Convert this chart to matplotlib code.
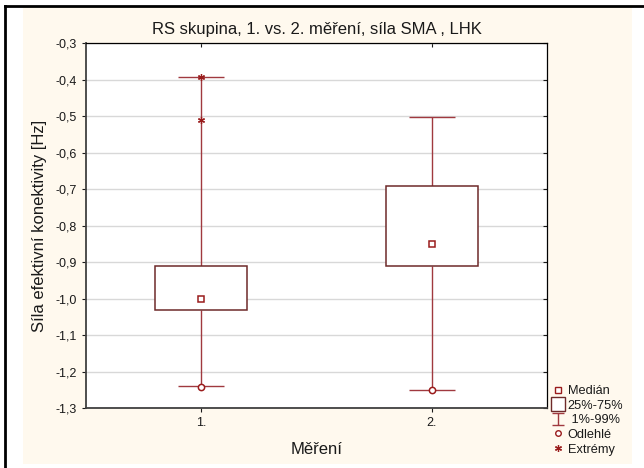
import numpy as np
import matplotlib
matplotlib.use('Agg')
import matplotlib.pyplot as plt
from matplotlib.patches import Rectangle
from matplotlib.lines import Line2D
from matplotlib.path import Path
from matplotlib.ticker import FuncFormatter, MultipleLocator

plt.rcParams['font.family'] = ['Liberation Sans', 'DejaVu Sans']

# Data
groups = ['1.', '2.']
medians = [-1.002, -0.851]
q25 = [-1.030, -0.911]
q75 = [-0.911, -0.692]
p01 = [-1.240, -1.250]
p99 = [-0.392, -0.501]
outliers = [[-1.242], [-1.250]]
extremes = [[-0.392, -0.510], []]

box_edge = '#6e2a2a'
whisk = '#a0393f'
mark = '#9a1c1c'
cream = '#fff9ee'
txt = '#1a1a1a'

fig = plt.figure(figsize=(6.44, 4.68), dpi=100)
fig.patch.set_facecolor('white')

# cream panel + black frame on top/left
fig.add_artist(Rectangle((23 / 644, 1 - 464 / 468), (632 - 23) / 644, (464 - 7) / 468,
                         transform=fig.transFigure, facecolor=cream, edgecolor='none', zorder=0))
fig.add_artist(Line2D([5 / 644, 1], [1 - 5.5 / 468, 1 - 5.5 / 468], transform=fig.transFigure,
                      color='black', lw=2))
fig.add_artist(Line2D([5 / 644, 5 / 644], [0, 1 - 5.5 / 468], transform=fig.transFigure,
                      color='black', lw=2))

ax = fig.add_axes([86 / 644, 1 - 408 / 468, (547 - 86) / 644, (408 - 43.3) / 468])
ax.set_facecolor('white')

x = np.arange(1, len(groups) + 1)
bw = 0.4
for i, xi in enumerate(x):
    # whiskers
    ax.vlines(xi, p01[i], q25[i], color=whisk, lw=1, zorder=2)
    ax.vlines(xi, q75[i], p99[i], color=whisk, lw=1, zorder=2)
    ax.hlines([p01[i], p99[i]], xi - bw / 4, xi + bw / 4, color=whisk, lw=1, zorder=2)
    # box
    ax.add_patch(Rectangle((xi - bw / 2, q25[i]), bw, q75[i] - q25[i], facecolor='white',
                           edgecolor=box_edge, lw=1.1, zorder=3))
    ax.plot(xi, medians[i], 's', ms=4.5, mfc='white', mec=mark, mew=1.1, zorder=4)
    if outliers[i]:
        ax.plot([xi] * len(outliers[i]), outliers[i], 'o', ms=4.5, mfc='white', mec=mark,
                mew=1.1, zorder=4)
    if extremes[i]:
        ax.plot([xi] * len(extremes[i]), extremes[i], marker=(6, 2, 0), ls='none', ms=5,
                color=mark, mew=0.9, zorder=4)

ax.set_xlim(0.5, 2.5)
ax.set_ylim(-1.3, -0.3)
ax.set_xticks(x)
ax.set_xticklabels(groups)
ax.yaxis.set_major_locator(MultipleLocator(0.1))
ax.yaxis.set_major_formatter(FuncFormatter(lambda v, p: ('%.1f' % v).replace('.', ',')))
ax.grid(axis='y', color='#d8d8d8', lw=1, zorder=0)
ax.set_axisbelow(True)
ax.tick_params(axis='both', labelsize=9, colors=txt, length=3, width=0.8)
ax.tick_params(axis='y', right=True, direction='out')
ax.tick_params(axis='x', top=True)
for s in ['left', 'bottom']:
    ax.spines[s].set_color('#404040')
    ax.spines[s].set_linewidth(1.3)
for s in ['top', 'right']:
    ax.spines[s].set_color('black')
    ax.spines[s].set_linewidth(0.9)
for t in ax.yaxis.get_ticklines()[1::2]:
    t.set_marker(0)  # right ticks point inward
for t in ax.xaxis.get_ticklines()[1::2]:
    t.set_marker(3)

ax.set_title('RS skupina, 1. vs. 2. měření, síla SMA , LHK', fontsize=12, color=txt, pad=7)
ax.set_xlabel('Měření', fontsize=12, color=txt, labelpad=9)
ax.set_ylabel('Síla efektivní konektivity [Hz]', fontsize=12, color=txt, labelpad=6)

ibeam = Path([(-1, 1), (1, 1), (0, 1), (0, -1), (-1, -1), (1, -1)],
             [Path.MOVETO, Path.LINETO, Path.MOVETO, Path.LINETO, Path.MOVETO, Path.LINETO])
handles = [
    Line2D([], [], ls='none', marker='s', ms=4, mfc='white', mec=mark, mew=1),
    Line2D([], [], ls='none', marker='s', ms=10, mfc='white', mec=box_edge, mew=1),
    Line2D([], [], ls='none', marker=ibeam, ms=9, mec=whisk, mew=1),
    Line2D([], [], ls='none', marker='o', ms=4, mfc='white', mec=mark, mew=1),
    Line2D([], [], ls='none', marker=(6, 2, 0), ms=5, color=mark, mew=0.9),
]
labels = ['Medián', '25%-75%', ' 1%-99%', 'Odlehlé', 'Extrémy']
fig.legend(handles, labels, loc='upper left', bbox_to_anchor=(551 / 644, 1 - 384 / 468),
           frameon=False, fontsize=9.2, handlelength=0.9, handletextpad=0.3,
           labelspacing=0.2, borderpad=0.1, borderaxespad=0, labelcolor=txt)

fig.savefig('out.png', dpi=100)
